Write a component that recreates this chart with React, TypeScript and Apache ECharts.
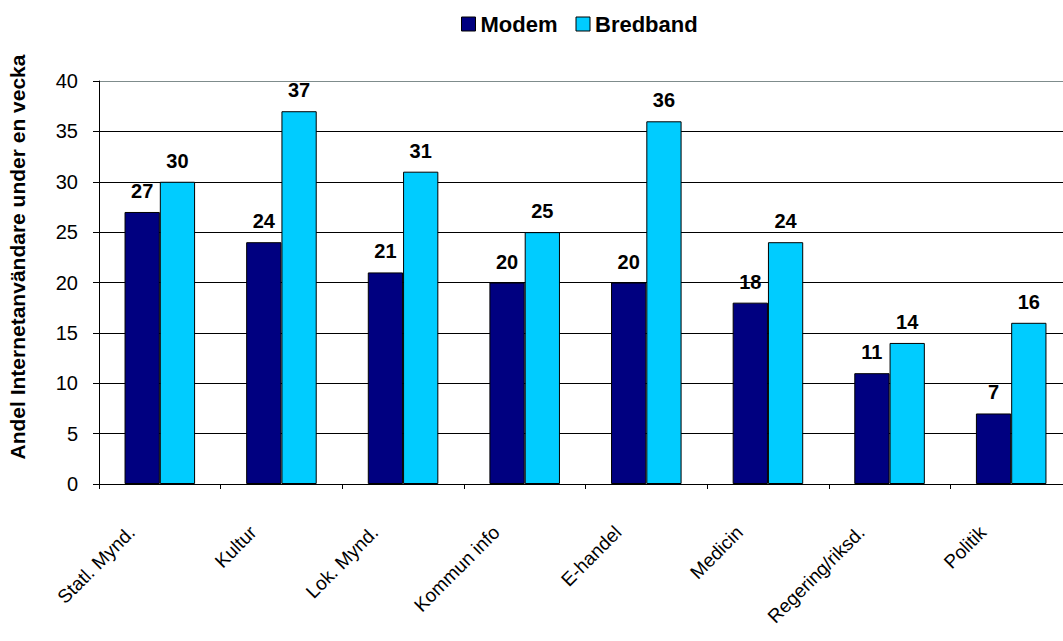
import React, { useEffect, useRef } from "react";
import * as echarts from "echarts";

const categories = [
  "Statl. Mynd.",
  "Kultur",
  "Lok. Mynd.",
  "Kommun info",
  "E-handel",
  "Medicin",
  "Regering/riksd.",
  "Politik",
];
const modem = [27, 24, 21, 20, 20, 18, 11, 7];
const bredband = [30, 37, 31, 25, 36, 24, 14, 16];
const yTitle = "Andel Internetanvändare under en vecka";

const FONT = "'Liberation Sans', Arial, sans-serif";

export default function App() {
  const ref = useRef<HTMLDivElement>(null);
  useEffect(() => {
    if (!ref.current) return;
    const chart = echarts.init(ref.current, null, { renderer: "svg" });
    const labelCfg = {
      show: true,
      position: "top",
      distance: 11,
      color: "#000",
      fontWeight: "bold",
      fontSize: 20,
      fontFamily: FONT,
    };
    chart.setOption({
      animation: false,
      backgroundColor: "#fff",
      textStyle: { fontFamily: FONT },
      legend: {
        top: 8,
        left: 456,
        itemWidth: 14,
        itemHeight: 14,
        itemGap: 18,
        icon: "rect",
        textStyle: { fontSize: 22, fontWeight: "bold", color: "#000", fontFamily: FONT },
        data: [
          { name: "Modem", itemStyle: { borderColor: "#000", borderWidth: 1 } },
          { name: "Bredband", itemStyle: { borderColor: "#000", borderWidth: 1 } },
        ],
      },
      grid: { left: 99, right: 9, top: 81, bottom: 157, containLabel: false },
      graphic: [
        {
          type: "text",
          x: 17,
          y: 257,
          rotation: Math.PI / 2,
          style: {
            text: yTitle,
            fontSize: 21,
            fontWeight: "bold",
            fontFamily: FONT,
            fill: "#000",
            textAlign: "center",
            textVerticalAlign: "middle",
          },
        },
      ],
      xAxis: {
        type: "category",
        data: categories,
        axisLine: { lineStyle: { color: "#000", width: 1 } },
        axisTick: { show: true, length: 5, lineStyle: { color: "#000" } },
        axisLabel: {
          rotate: 45,
          interval: 0,
          margin: 17,
          padding: [0, 40, 0, 0],
          fontSize: 19,
          color: "#000",
          fontFamily: FONT,
        },
      },
      yAxis: {
        type: "value",
        min: 0,
        max: 40,
        interval: 5,
        axisLine: { show: true, lineStyle: { color: "#000" } },
        axisTick: { show: true, length: 6, lineStyle: { color: "#000" } },
        axisLabel: { fontSize: 20, color: "#000", margin: 21, fontFamily: FONT },
        splitLine: {
          show: true,
          lineStyle: {
            color: ["#000", "#000", "#000", "#000", "#000", "#000", "#000", "#000", "#7f8c8c"],
            width: 1,
          },
        },
      },
      series: [
        {
          name: "Modem",
          type: "bar",
          data: modem,
          barGap: "0%",
          barCategoryGap: "42%",
          itemStyle: { color: "#000080", borderColor: "#000", borderWidth: 1 },
          label: labelCfg,
        },
        {
          name: "Bredband",
          type: "bar",
          data: bredband,
          barGap: "0%",
          barCategoryGap: "42%",
          itemStyle: { color: "#00ccff", borderColor: "#000", borderWidth: 1 },
          label: labelCfg,
        },
      ],
    });
    return () => chart.dispose();
  }, []);
  return (
    <div
      style={{
        position: "fixed",
        left: 0,
        top: 0,
        width: 1063,
        height: 641,
        overflow: "hidden",
        background: "#fff",
      }}
    >
      <div ref={ref} style={{ width: 1081, height: 641 }} />
    </div>
  );
}
